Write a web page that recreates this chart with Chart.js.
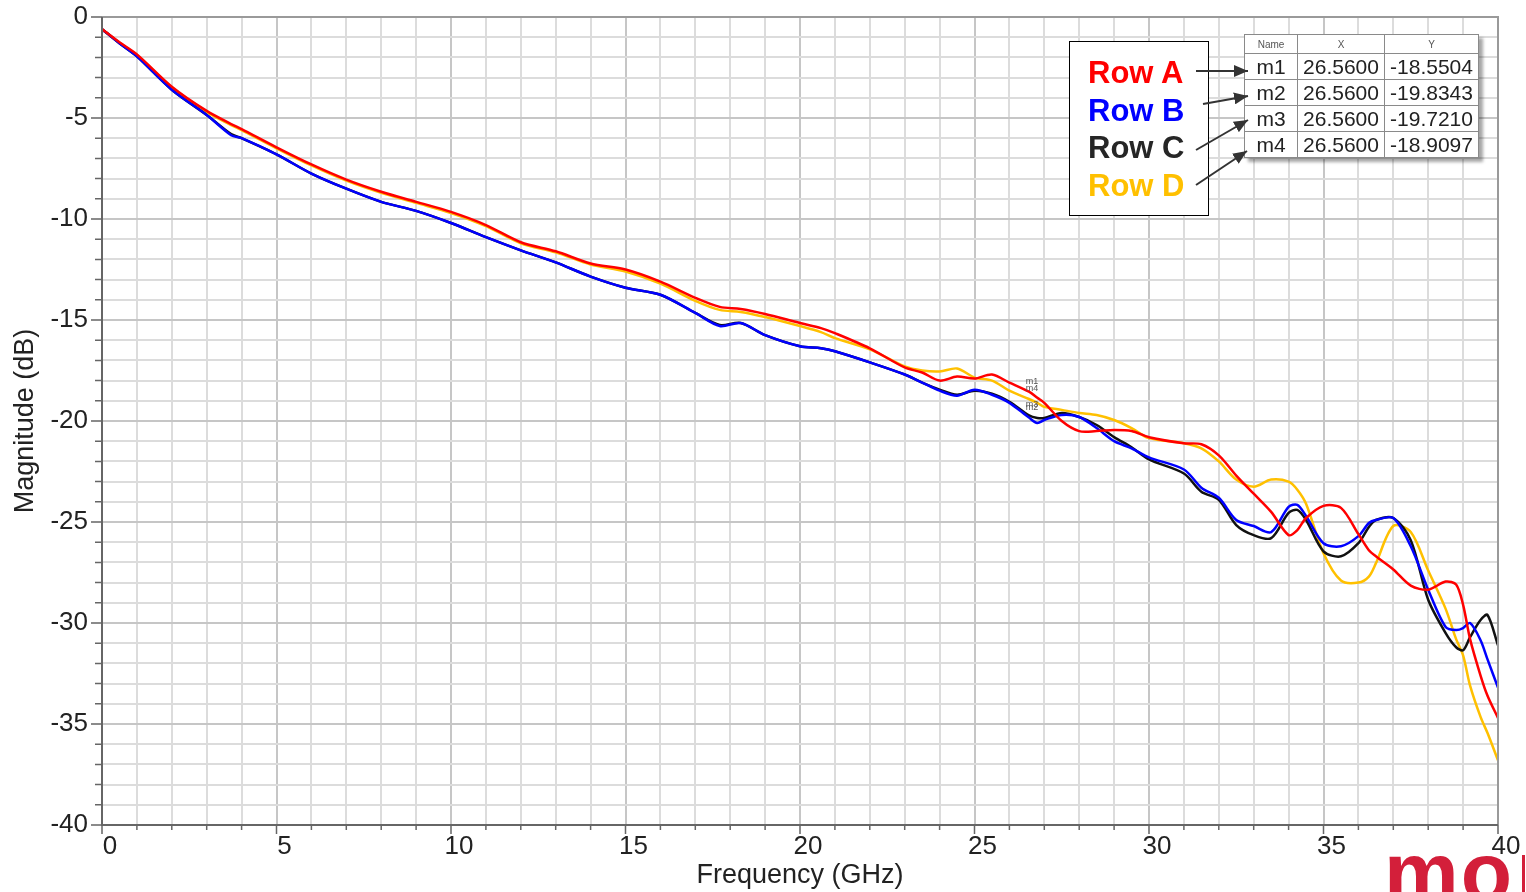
<!DOCTYPE html>
<html>
<head>
<meta charset="utf-8">
<script src="https://cdn.jsdelivr.net/npm/chart.js@4.4.1/dist/chart.umd.min.js"></script>
<style>
  body { margin: 0; background: #fff; overflow: hidden; }
  #wrap { position: relative; width: 1526px; height: 892px; overflow: hidden; font-family: "Liberation Sans", Arial, sans-serif; }
  #chart { position: absolute; left: 0; top: 0; }
  .legend-box { position: absolute; left: 1069px; top: 41px; width: 140px; height: 175px; box-sizing: border-box; border: 1.5px solid #000; background: #fff; }
  .legend-row { position: absolute; left: 1088px; font-weight: bold; font-size: 31px; line-height: 31px; white-space: nowrap; }
  table.markers { position: absolute; left: 1244px; top: 34px; border-collapse: collapse; background: #fff; box-shadow: 4px 4px 3px rgba(0,0,0,0.35); table-layout: fixed; }
  table.markers td, table.markers th { border: 1px solid #8a8a8a; padding: 0; text-align: center; color: #222; }
  table.markers th { font-size: 10px; font-weight: normal; color: #555; height: 18px; }
  table.markers td { font-size: 21px; height: 25px; line-height: 25px; }
  svg.arrows { position: absolute; left: 0; top: 0; pointer-events: none; }
  .logo { position: absolute; left: 1384px; top: 830px; font-size: 84px; line-height: 84px; font-weight: bold; color: #d31f3a; letter-spacing: 2px; }
  .logo-bar { position: absolute; left: 1522px; top: 855px; width: 3px; height: 40px; background: #d31f3a; }
</style>
</head>
<body>
<div id="wrap">
  <canvas id="chart" width="1526" height="892"></canvas>
  <div class="legend-box"></div>
  <table class="markers" id="markerTable"></table>
  <svg class="arrows" width="1526" height="892">
    <defs>
      <marker id="head" viewBox="0 0 14 12" refX="14" refY="6" markerWidth="14" markerHeight="12" markerUnits="userSpaceOnUse" orient="auto">
        <path d="M0,0 L14,6 L0,12 z" fill="#333"/>
      </marker>
    </defs>
    <line x1="1196" y1="71" x2="1248" y2="71" stroke="#333" stroke-width="2" marker-end="url(#head)"/>
    <line x1="1203" y1="104" x2="1248" y2="96" stroke="#333" stroke-width="2" marker-end="url(#head)"/>
    <line x1="1196" y1="150" x2="1248" y2="120" stroke="#333" stroke-width="2" marker-end="url(#head)"/>
    <line x1="1196" y1="185" x2="1247" y2="151" stroke="#333" stroke-width="2" marker-end="url(#head)"/>
  </svg>
  <div class="logo">mo</div>
  <div class="logo-bar"></div>
</div>
<script>
// Frequency points (GHz) shared by all four traces
const freqGHz = [0, 0.5, 1, 2, 3, 3.7, 4, 5, 6, 7, 8, 9, 10, 11, 12, 13, 14, 15, 16, 17,
  17.7, 18.3, 19, 20, 20.6, 21, 22, 23, 23.5, 24, 24.5, 25, 25.5, 26, 26.56, 26.8, 27, 27.5, 28, 28.5,
  29, 29.5, 30, 31, 31.5, 32, 32.5, 33, 33.5, 34, 34.25, 34.5, 35, 35.5, 36, 36.3, 36.5, 37, 37.5, 38,
  38.5, 38.8, 39, 39.2, 39.5, 39.7, 40];

const rowA = [-0.6, -1.25, -1.85, -3.45, -4.65, -5.3, -5.55, -6.45, -7.3, -8.05, -8.65, -9.15, -9.65, -10.3, -11.15, -11.6, -12.2, -12.5, -13.1, -13.9,
  -14.35, -14.45, -14.7, -15.15, -15.4, -15.65, -16.4, -17.35, -17.6, -18.0, -17.8, -17.9, -17.7, -18.1, -18.55, -18.85, -19.1, -20.0, -20.5, -20.5,
  -20.45, -20.5, -20.8, -21.1, -21.15, -21.7, -22.7, -23.6, -24.5, -25.65, -25.4, -24.8, -24.2, -24.3, -25.6, -26.4, -26.7, -27.35, -28.15, -28.35,
  -27.95, -28.1, -29.1, -30.8, -32.6, -33.6, -34.7];

const rowB = [-0.6, -1.3, -1.95, -3.6, -4.85, -5.85, -6.0, -6.8, -7.75, -8.5, -9.15, -9.6, -10.2, -10.9, -11.55, -12.15, -12.85, -13.4, -13.75, -14.65,
  -15.3, -15.15, -15.75, -16.3, -16.4, -16.55, -17.1, -17.7, -18.1, -18.5, -18.75, -18.45, -18.7, -19.1, -19.83, -20.1, -19.95, -19.7, -19.8, -20.35,
  -21.0, -21.35, -21.8, -22.4, -23.3, -23.8, -24.9, -25.2, -25.5, -24.25, -24.15, -24.7, -26.05, -26.2, -25.7, -25.05, -24.9, -24.8, -26.2, -28.35,
  -30.2, -30.35, -30.25, -30.0, -30.85, -31.8, -33.2];

const rowC = [-0.6, -1.3, -1.95, -3.6, -4.85, -5.8, -6.0, -6.8, -7.75, -8.5, -9.15, -9.6, -10.2, -10.9, -11.55, -12.15, -12.85, -13.4, -13.75, -14.65,
  -15.25, -15.15, -15.75, -16.3, -16.4, -16.55, -17.1, -17.7, -18.1, -18.45, -18.7, -18.5, -18.65, -19.05, -19.72, -19.85, -19.85, -19.6, -19.8, -20.2,
  -20.8, -21.3, -21.9, -22.6, -23.5, -23.9, -25.15, -25.65, -25.8, -24.55, -24.4, -24.9, -26.45, -26.7, -26.05, -25.25, -24.9, -24.8, -25.9, -28.85,
  -30.5, -31.2, -31.35, -30.7, -29.85, -29.6, -31.1];

const rowD = [-0.6, -1.28, -1.88, -3.48, -4.7, -5.35, -5.6, -6.5, -7.35, -8.1, -8.7, -9.2, -9.7, -10.35, -11.2, -11.65, -12.25, -12.6, -13.2, -14.05,
  -14.5, -14.6, -14.85, -15.3, -15.6, -15.9, -16.45, -17.3, -17.5, -17.55, -17.4, -17.85, -18.0, -18.5, -18.91, -19.1, -19.3, -19.45, -19.6, -19.7,
  -19.95, -20.35, -20.85, -21.1, -21.35, -22.0, -22.9, -23.25, -22.9, -23.0, -23.4, -24.1, -26.55, -27.9, -28.0, -27.7, -27.05, -25.2, -25.5, -27.4,
  -29.3, -30.8, -31.6, -33.1, -34.65, -35.45, -36.8];

const seriesNames = ['Row A', 'Row B', 'Row C', 'Row D'];
const lineColors = ['#ff0000', '#0000ff', '#111111', '#ffc000'];
const textColors = ['#ff0000', '#0000ff', '#262626', '#ffc000'];

const markerNames = ['m1', 'm2', 'm3', 'm4'];
const markerX = 26.56;
const markerY = [-18.5504, -19.8343, -19.7210, -18.9097];

// legend rows (baselines at 83/121/158/196)
const legendTops = [57, 95, 132, 170];
const wrap = document.getElementById('wrap');
seriesNames.forEach((name, i) => {
    const d = document.createElement('div');
    d.className = 'legend-row';
    d.style.top = legendTops[i] + 'px';
    d.style.color = textColors[i];
    d.textContent = name;
    wrap.appendChild(d);
});

// marker table
const table = document.getElementById('markerTable');
let html = '<colgroup><col style="width:53px"><col style="width:87px"><col style="width:94px"></colgroup>';
html += '<tr><th>Name</th><th>X</th><th>Y</th></tr>';
markerNames.forEach((m, i) => {
    html += `<tr><td>${m}</td><td>${markerX.toFixed(4)}</td><td>${markerY[i].toFixed(4)}</td></tr>`;
});
table.innerHTML = html;

const toPoints = vals => freqGHz.map((f, i) => ({ x: f, y: vals[i] }));
const allRows = [rowA, rowB, rowC, rowD];

// axis tick marks + plot frame
const frameTicks = {
    id: 'frameTicks',
    afterDraw(chart) {
        const { ctx, chartArea: a, scales: { x, y } } = chart;
        ctx.save();
        ctx.strokeStyle = '#9a9a9a';
        ctx.lineWidth = 2;
        ctx.beginPath();
        ctx.moveTo(a.left, a.top); ctx.lineTo(a.right, a.top); ctx.lineTo(a.right, a.bottom);
        ctx.stroke();
        ctx.strokeStyle = '#666';
        ctx.beginPath();
        ctx.moveTo(a.left, a.top); ctx.lineTo(a.left, a.bottom); ctx.lineTo(a.right, a.bottom);
        ctx.stroke();
        ctx.lineWidth = 1.5;
        ctx.beginPath();
        x.ticks.forEach(t => {
            const px = x.getPixelForValue(t.value);
            const len = t.value % 5 === 0 ? 9 : 5;
            ctx.moveTo(px, a.bottom); ctx.lineTo(px, a.bottom + len);
        });
        y.ticks.forEach(t => {
            const py = y.getPixelForValue(t.value);
            const len = t.value % 5 === 0 ? 11 : 7;
            ctx.moveTo(a.left - len, py); ctx.lineTo(a.left, py);
        });
        ctx.stroke();
        ctx.restore();
    }
};

// small marker name labels on the traces
const markerLabels = {
    id: 'markerLabels',
    afterDatasetsDraw(chart) {
        const { ctx, scales: { x, y } } = chart;
        ctx.save();
        ctx.font = '9px "Liberation Sans", Arial, sans-serif';
        ctx.fillStyle = '#555';
        ctx.textAlign = 'center';
        ctx.textBaseline = 'bottom';
        markerNames.forEach((m, i) => {
            const px = x.getPixelForValue(markerX);
            const py = y.getPixelForValue(markerY[i]);
            ctx.fillText(m, px + 3, py - 6);
        });
        ctx.restore();
    }
};

const tickFont = { family: '"Liberation Sans", Arial, sans-serif', size: 26 };
const titleFont = { family: '"Liberation Sans", Arial, sans-serif', size: 27 };

new Chart(document.getElementById('chart'), {
    type: 'line',
    data: {
        datasets: allRows.map((vals, i) => ({
            label: seriesNames[i],
            data: toPoints(vals),
            borderColor: lineColors[i],
            borderWidth: 2.5,
            pointRadius: 0,
            tension: 0.3,
            fill: false
        }))
    },
    options: {
        responsive: false,
        animation: false,
        layout: { padding: { top: 17, right: 28, bottom: 0, left: 0 } },
        plugins: {
            legend: { display: false },
            tooltip: { enabled: false }
        },
        scales: {
            x: {
                type: 'linear',
                min: 0,
                max: 40,
                afterFit: s => { s.height = 67; s.paddingLeft = 0; s.paddingRight = 0; },
                border: { display: false },
                grid: {
                    drawTicks: false,
                    lineWidth: 2,
                    color: c => (c.tick && c.tick.value % 5 === 0) ? '#c6c6c6' : '#dcdcdc'
                },
                ticks: {
                    stepSize: 1,
                    autoSkip: false,
                    maxRotation: 0,
                    padding: 6,
                    labelOffset: 8,
                    color: '#222',
                    font: tickFont,
                    callback: v => v % 5 === 0 ? String(v) : ''
                },
                title: {
                    display: true,
                    text: 'Frequency (GHz)',
                    color: '#222',
                    font: titleFont,
                    padding: { top: 0, bottom: 0 }
                }
            },
            y: {
                type: 'linear',
                min: -40,
                max: 0,
                afterFit: s => { s.width = 102; s.paddingTop = 0; s.paddingBottom = 0; },
                border: { display: false },
                grid: {
                    drawTicks: false,
                    lineWidth: 2,
                    color: c => (c.tick && c.tick.value % 5 === 0) ? '#c6c6c6' : '#dcdcdc'
                },
                ticks: {
                    stepSize: 1,
                    autoSkip: false,
                    padding: 14,
                    color: '#222',
                    font: tickFont,
                    callback: v => v % 5 === 0 ? String(v) : ''
                },
                title: {
                    display: true,
                    text: 'Magnitude (dB)',
                    color: '#222',
                    font: titleFont,
                    padding: { top: 9, bottom: 0 }
                }
            }
        }
    },
    plugins: [frameTicks, markerLabels]
});
</script>
</body>
</html>
